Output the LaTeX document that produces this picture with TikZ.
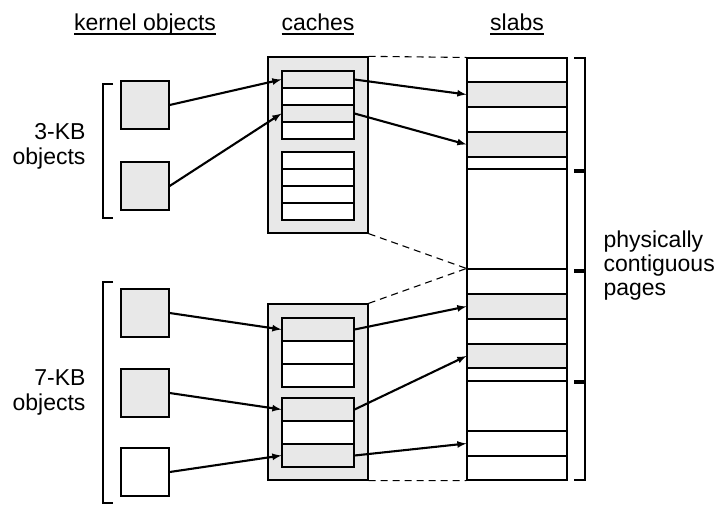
\documentclass[tikz,border=0pt]{standalone}
\usepackage{fontspec}
\setmainfont{Liberation Sans}

% underlined column heading
\newcommand{\uhead}[1]{\setbox0\hbox{#1}\rlap{\rule[-4.5pt]{\wd0}{1.1pt}}\box0}

\tikzset{
  kobj/.style={draw,line width=1.3pt,fill=gray!18,minimum width=48pt,minimum height=48pt,inner sep=0pt},
  cachebox/.style={draw,line width=1.3pt,fill=gray!18,minimum width=100pt,minimum height=176pt,inner sep=0pt},
  slot/.style={draw,line width=1.1pt,minimum width=72pt,inner sep=0pt},
  slabobj/.style={draw,line width=1.1pt,minimum width=100pt,inner sep=0pt},
  used/.style={fill=gray!18},
  free/.style={fill=white},
  ptr/.style={->,>=latex,line width=2.1pt},
  link/.style={dash pattern=on 7pt off 5pt,line width=1.1pt}
}

\begin{document}
\begin{tikzpicture}[x=1pt,y=-1pt,font=\fontsize{23}{25}\selectfont]
\useasboundingbox (0,0) rectangle (719,504);

% Headings
\node[anchor=base] (hk) at (145,30) {\uhead{kernel objects}};
\node[anchor=base] (hc) at (318,30) {\uhead{caches}};
\node[anchor=base] (hs) at (517,30) {\uhead{slabs}};

% Kernel objects
\node[anchor=east,align=right] (l3) at (89,146) {3-KB\\objects};
\node[anchor=east,align=right] (l7) at (89,392) {7-KB\\objects};
\draw[line width=1.1pt] (113,84) -- (103,84) -- (103,218) -- (113,218);
\draw[line width=1.1pt] (113,282) -- (103,282) -- (103,503) -- (113,503);
\node[kobj] (k1) at (145,105) {};
\node[kobj] (k2) at (145,186) {};
\node[kobj] (k3) at (145,313) {};
\node[kobj] (k4) at (145,393) {};
\node[kobj,fill=white] (k5) at (145,472) {};

% Caches
\node[cachebox] (c3) at (318,145) {};
\node[cachebox] (c7) at (318,392) {};
\foreach \y/\s [count=\i] in {79.5/used,96.5/free,113.5/used,130.5/free,
                              160.5/free,177.5/free,194.5/free,211.5/free}
  \node[slot,\s,minimum height=17pt] (a\i) at (318,\y) {};
\foreach \y/\s [count=\i] in {329.5/used,352.5/free,375.5/free,
                              409.5/used,432.5/free,455.5/used}
  \node[slot,\s,minimum height=23pt] (b\i) at (318,\y) {};

% Slabs
\foreach \t/\b/\s [count=\i] in {58/82/free,82/107/used,107/132/free,132/157/used,
                                 157/169/free,169/269/free,269/294/free,294/319/used,
                                 319/344/free,344/368/used,368/381/free,381/431/free,
                                 431/456/free,456/480/free}
  \node[slabobj,\s,minimum height={\b-\t}] (s\i) at (517,{(\t+\b)/2}) {};

% Cache to slab outlines
\draw[link] (c3.north east) -- (s1.north west);
\draw[link] (c3.south east) -- (s7.north west);
\draw[link] (c7.north east) -- (s7.north west);
\draw[link] (c7.south east) -- (s14.south west);

% Pages
\foreach \a/\b in {58/170,172/270,272/381,383/480}
  \draw[line width=1.3pt] (574,\a) -- (585,\a) -- (585,\b) -- (574,\b);
\node[anchor=west,align=left,font=\fontsize{23}{24}\selectfont] (pcp) at (600,266) {physically\\contiguous\\pages};

% Pointers
\draw[ptr] (k1.east) -- (a1.west);
\draw[ptr] (k2.east) -- (a3.west);
\draw[ptr] (a1.east) -- (s2.west);
\draw[ptr] (a3.east) -- (s4.west);
\draw[ptr] (k3.east) -- (b1.west);
\draw[ptr] (k4.east) -- (b4.west);
\draw[ptr] (k5.east) -- (b6.west);
\draw[ptr] (b1.east) -- (s8.west);
\draw[ptr] (b4.east) -- (s10.west);
\draw[ptr] (b6.east) -- (s13.west);
\end{tikzpicture}
\end{document}
